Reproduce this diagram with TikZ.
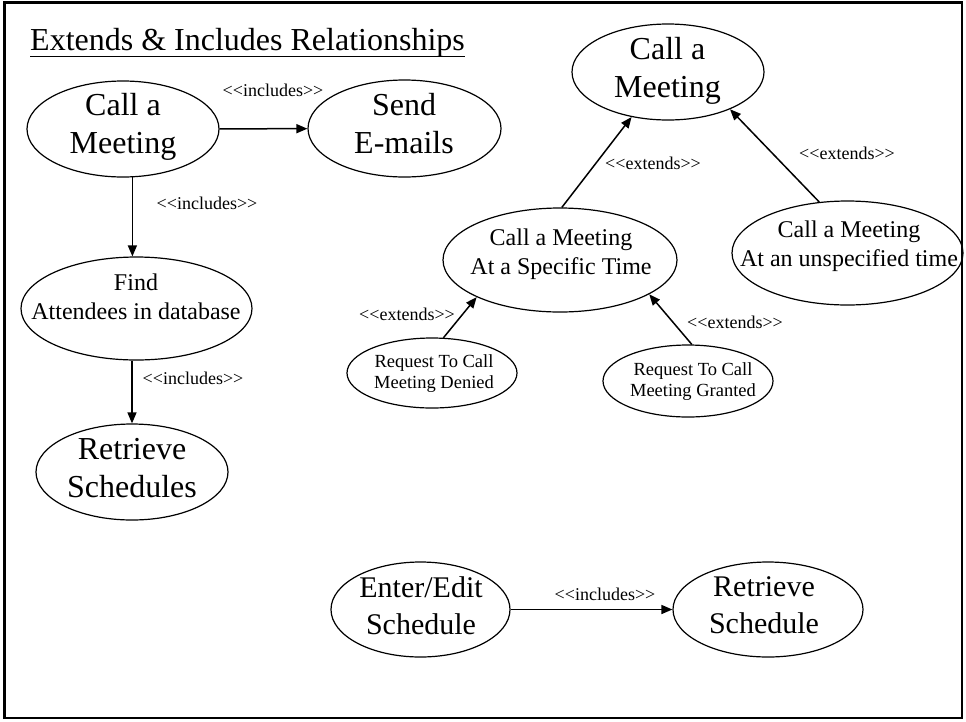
\documentclass[tikz,border=0pt]{standalone}
\usepackage{fontspec}
\setmainfont{Liberation Serif}
\usetikzlibrary{arrows.meta,shapes.geometric}
\newcommand\incl{<\kern0pt<includes>\kern0pt>}
\newcommand\extd{<\kern0pt<extends>\kern0pt>}
\tikzset{
  uc/.style={draw, ellipse, line width=1.2pt, inner sep=0pt},
  big/.style={anchor=north, inner sep=0pt, align=center, font=\fontsize{32}{38}\selectfont},
  mid/.style={anchor=north, inner sep=0pt, align=center, font=\fontsize{24}{28.5}\selectfont},
  sml/.style={anchor=north, inner sep=0pt, align=center, font=\fontsize{18.5}{21.5}\selectfont},
  ees/.style={anchor=north, inner sep=0pt, align=center, font=\fontsize{30}{37}\selectfont},
  lbl/.style={inner sep=0pt, font=\fontsize{18}{20}\selectfont},
  arr/.style={line width=1.5pt, -{Triangle[length=11pt,width=9pt]}},
}
\begin{document}
\begin{tikzpicture}[x=1pt,y=-1pt]
\useasboundingbox (0,0) rectangle (966,721);
\draw[line width=2.5pt] (4.5,2.5) rectangle (962,718);

% title
\node[anchor=base west, inner sep=0pt, font=\fontsize{32}{38}\selectfont] (title) at (30,50) {Extends \& Includes Relationships};
\draw[line width=1.5pt] ([yshift=-6.5pt]title.base west) -- ([yshift=-6.5pt]title.base east);

% left group
\node[uc, minimum width=192pt, minimum height=96pt] (caml) at (123,129) {};
\node[big] (caml-t) at (123,93) {Call a\\Meeting};
\node[uc, minimum width=193pt, minimum height=97pt] (send) at (404.5,128.5) {};
\node[big] (send-t) at (404,93) {Send\\E-mails};
\node[uc, minimum width=231pt, minimum height=103pt] (find) at (136.5,308.5) {};
\node[mid] (find-t) at (136,274) {Find\\Attendees in database};
\node[uc, minimum width=192pt, minimum height=96pt] (rs) at (132,472) {};
\node[big] (rs-t) at (132,438) {Retrieve\\Schedules};

\draw[arr] (caml) -- (send);
\node[lbl] (l1) at (273,90) {\incl};
\draw[arr] (caml.-79) -- (caml.-79 |- find.north);
\node[lbl] (l2) at (207,203) {\incl};
\draw[arr] (find.south -| rs.north) -- (rs.north);
\node[lbl] (l3) at (193,378) {\incl};

% right group
\node[uc, minimum width=192pt, minimum height=96pt] (rcam) at (668,72) {};
\node[big] (rcam-t) at (667.5,37) {Call a\\Meeting};
\node[uc, minimum width=234pt, minimum height=104pt] (spec) at (560,260) {};
\node[mid] (spec-t) at (561,229) {Call a Meeting\\At a Specific Time};
\node[uc, minimum width=231pt, minimum height=104pt] (unsp) at (847.5,253) {};
\node[mid] (unsp-t) at (849,221) {Call a Meeting\\At an unspecified time};
\node[uc, minimum width=170pt, minimum height=70pt] (den) at (432,373) {};
\node[sml] (den-t) at (434,354) {Request To Call\\Meeting Denied};
\node[uc, minimum width=170pt, minimum height=72pt] (gra) at (688,381) {};
\node[sml] (gra-t) at (693,362) {Request To Call\\Meeting Granted};

\draw[arr] (spec.88) -- (rcam.-129);
\node[lbl] (r1) at (653,163) {\extd};
\draw[arr] (unsp.119) -- (rcam.-31);
\node[lbl] (r2) at (847,153) {\extd};
\draw[arr] (den.72) -- (spec.-156);
\node[lbl] (r3) at (407,314) {\extd};
\draw[arr] (gra.84) -- (spec.-21);
\node[lbl] (r4) at (735,322) {\extd};

% bottom group
\node[uc, minimum width=179pt, minimum height=95pt] (ee) at (420.5,609.5) {};
\node[ees] (ee-t) at (421,576) {Enter/Edit\\Schedule};
\node[uc, minimum width=190pt, minimum height=95pt] (rsch) at (768,609.5) {};
\node[ees] (rsch-t) at (764,576) {Retrieve\\Schedule};
\draw[arr] (ee) -- (rsch);
\node[lbl] (b1) at (605,594) {\incl};
\end{tikzpicture}
\end{document}
